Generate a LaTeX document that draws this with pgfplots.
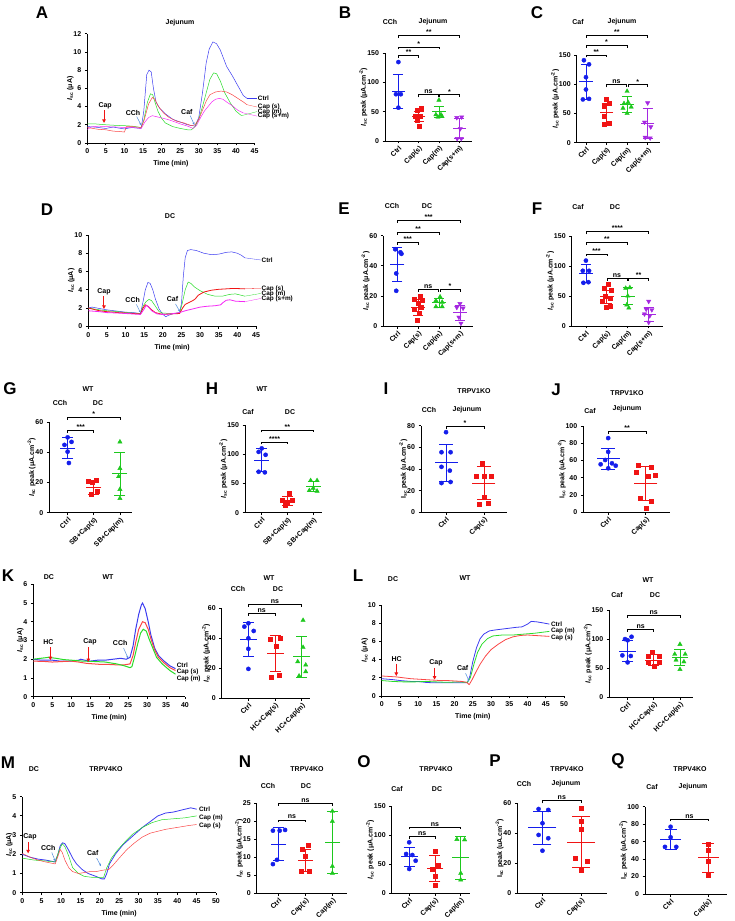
\documentclass[border=0pt]{standalone}
\usepackage{fontspec}
\setmainfont{Liberation Sans}
\usepackage{pgfplots}
\pgfplotsset{compat=1.18}
\usetikzlibrary{arrows.meta}

\definecolor{cb}{RGB}{20,30,235}
\definecolor{cr}{RGB}{240,20,20}
\definecolor{cg}{RGB}{30,200,30}
\definecolor{cp}{RGB}{165,40,225}
\definecolor{lb}{RGB}{60,60,240}
\definecolor{lr}{RGB}{250,70,70}
\definecolor{lg}{RGB}{40,220,40}
\definecolor{lm}{RGB}{245,40,245}
\definecolor{arr}{RGB}{80,140,220}

\newcommand\fs{\fontsize{7}{8}\selectfont\bfseries}
\newcommand\fsm{\fontsize{6.4}{7}\selectfont\bfseries}
\newcommand\fl{\fontsize{17}{17}\selectfont\bfseries}
\newcommand\mw{7pt}
\newcommand\cw{5pt}

\pgfplotsset{
  /pgf/number format/assume math mode=true,
  base/.style={scale only axis, anchor=south west, axis lines=left,
    axis line style={-, line width=0.8pt},
    every tick/.style={black, line width=0.8pt},
    tick align=outside, major tick length=2.5pt, ymin=0, clip=false,
    tick label style={font=\fs}, label style={font=\fs},
    ylabel style={yshift=-7pt}},
  ts/.style={base, xmin=0, xtick distance=5, xlabel={Time (min)},
    ylabel={{\itshape I}\textsubscript{sc} (μA)}},
  sc/.style={base, ylabel={{\itshape I}\textsubscript{sc} peak (μA.cm\textsuperscript{-2})},
    xticklabel style={rotate=45, anchor=north east, inner sep=1pt}},
  scu/.style={sc, ylabel={I\textsubscript{sc} peak (uA.cm\textsuperscript{-2})}},
  pc/.style={only marks, mark=*, cb, mark size=2.1pt},
  ps/.style={only marks, mark=square*, cr, mark size=2pt},
  pm/.style={only marks, mark=triangle*, cg, mark size=2.5pt},
  pp/.style={only marks, mark=triangle*, mark options={rotate=180}, cp, mark size=2.5pt},
  msd/.style={#1, line width=0.8pt, mark=-, mark size=\mw, mark options={line width=0.8pt},
    error bars/y dir=both, error bars/y explicit,
    error bars/error mark options={rotate=90, #1, mark size=\cw, line width=0.8pt},
    error bars/error bar style={line width=0.8pt, #1}},
}

\newcommand\br[4]{%
  \draw[line width=0.7pt] ([yshift=-2.5pt]axis cs:#1,#3) -- (axis cs:#1,#3) -- (axis cs:#2,#3) -- ([yshift=-2.5pt]axis cs:#2,#3);
  \path (axis cs:#1,#3) -- (axis cs:#2,#3) node[midway, above, inner sep=0.6pt, font=\fs] {#4};}
\newcommand\rarr[3]{\draw[cr, line width=1pt, -{Triangle[length=3.5pt,width=3.5pt]}] (axis cs:#1,#2) -- (axis cs:#1,#3);}
\newcommand\barr[4]{\draw[arr, line width=0.5pt, -{Stealth[length=2.5pt,width=2.2pt]}] (axis cs:#1,#2) -- (axis cs:#3,#4);}
\newcommand\T[3]{\node[font=\fs] at (#1pt,#2pt) {#3};}
\newcommand\PL[3]{\node[font=\fl] at (#1pt,#2pt) {#3};}
\newcommand\lab[4]{\node[font=\fsm, anchor=west, inner sep=0.3pt, #4] at (axis cs:#1,#2) {#3};}

\begin{document}
\begin{tikzpicture}
\path[use as bounding box] (0pt,0pt) rectangle (734pt,921pt);

% ---------------- A: Jejunum traces
\begin{axis}[ts, at={(87.3pt,778pt)}, width=167.2pt, height=109.3pt, xmax=45, ymax=12, ytick={0,2,...,12}]
\addplot[lb, line width=0.5pt] coordinates {(0,1.8)(2,1.75)(5,1.6)(7,1.75)(9,1.6)(10,1.55)(12,1.7)(14.5,1.6)(15.2,3.5)(16,7.5)(16.6,8.0)(17.2,7.8)(17.8,6)(18.5,4.5)(19.5,3.8)(21,3.2)(23,2.6)(25,2.3)(27,2.0)(29,1.85)(30,2.8)(31,5.5)(32,8.8)(32.8,10.3)(33.8,11.1)(34.8,10.9)(35.8,10.2)(37.5,8.4)(39,7.4)(40.5,6.3)(42,5.2)(43,4.9)};
\addplot[lg, line width=0.5pt] coordinates {(0,2.1)(2,2.1)(5,2.0)(7,1.95)(10,1.9)(12,1.85)(14.5,1.7)(15.2,2.5)(16.2,4.5)(17,5.4)(17.6,5.3)(18.2,4.5)(19,3.5)(20,2.7)(21,2.2)(23,1.8)(25,1.6)(27,1.45)(28,1.45)(29,1.8)(30,2.6)(31,4)(32,5.5)(33,7)(34,7.7)(34.8,7.6)(35.8,6.8)(37,5.5)(38.5,4.4)(40,3.5)(41.5,3.0)};
\addplot[lr, line width=0.5pt] coordinates {(0,1.7)(3,1.5)(5,1.45)(7,1.3)(9,1.25)(10,1.2)(10.5,1.8)(12,1.8)(14.5,1.7)(15.3,2.5)(16.5,4.3)(17.5,5.0)(18.2,4.8)(19,4.1)(20.5,3.3)(22,2.8)(24,2.4)(26,2.2)(28,1.9)(29,2.0)(30,2.6)(31,3.6)(32,4.6)(33,5.3)(34.5,5.6)(36,5.7)(37.5,5.6)(39,5.3)(40.5,4.9)(42,4.5)(43,4.2)};
\addplot[lm, line width=0.5pt] coordinates {(0,1.5)(1,1.75)(3,1.85)(5,1.8)(8,1.75)(10,1.7)(12,1.7)(14.5,1.6)(15.5,2.3)(16.5,2.8)(17.5,3.0)(18.5,2.9)(20,2.75)(21.5,2.6)(23,2.4)(25,2.1)(27,1.85)(28.5,1.6)(29.5,2.0)(30.5,2.8)(31.5,3.5)(32.5,4.0)(33.5,4.5)(34.5,4.8)(35.5,4.9)(36.5,4.8)(37.5,4.5)(39,4.1)(40.5,3.6)(42,3.3)};
\node[font=\fs] at (axis cs:4.8,4.1) {Cap};
\rarr{4.5}{3.6}{2.2}
\node[font=\fs] at (axis cs:12.3,3.3) {CCh};
\barr{13.3}{2.9}{14.5}{1.95}
\node[font=\fs] at (axis cs:26.8,3.4) {Caf};
\barr{27.7}{3.0}{28.8}{2.0}
\draw[lb, line width=0.3pt] (axis cs:43,4.9) -- (axis cs:45.7,4.9);
\draw[lr, line width=0.3pt] (axis cs:43,4.2) -- (axis cs:45.7,3.95);
\draw[lg, line width=0.3pt] (axis cs:41.5,3.0) -- (axis cs:45.7,3.45);
\draw[lm, line width=0.3pt] (axis cs:42,3.3) -- (axis cs:45.7,2.95);
\lab{45.8}{4.9}{Ctrl}{}
\lab{45.8}{3.95}{Cap (s)}{}
\lab{45.8}{3.45}{Cap (m)}{}
\lab{45.8}{2.95}{Cap (s+m)}{}
\end{axis}
\PL{42}{908}{A}
\T{180}{898}{Jejunum}

% ---------------- B
\renewcommand\mw{6.7pt}\renewcommand\cw{5pt}
\begin{axis}[sc, at={(385pt,780pt)}, width=87pt, height=87.7pt, xmin=-0.66, xmax=3.63, ymax=150, ytick={0,50,100,150}, xtick={0,1,2,3}, xticklabels={Ctrl,Cap(s),Cap(m),Cap(s+m)}]
\addplot[pc] coordinates {(0,135)(0.12,80)(-0.12,80)(0,57)};
\addplot[ps] coordinates {(1.12,56)(0.95,52)(0.85,42)(1.1,42)(0.95,35)(1.05,26)};
\addplot[pm] coordinates {(2,70)(1.85,45)(2.1,45)(1.95,41)(2.15,42)};
\addplot[pp] coordinates {(2.88,40)(3.12,41)(3.05,21)(2.9,4)(3.1,4)};
\addplot[msd=cb] coordinates {(0,85) +- (0,29)};
\addplot[msd=cr] coordinates {(1,42) +- (0,9)};
\addplot[msd=cg] coordinates {(2,50) +- (0,10)};
\addplot[msd=cp] coordinates {(3,21) +- (0,17)};
\br{0}{1}{146}{**}
\br{0}{2}{161}{*}
\br{0}{3}{180}{**}
\br{1}{1.96}{79}{ns}
\br{2.04}{3}{79}{*}
\end{axis}
\PL{345}{908}{B}
\T{390}{899}{CCh}
\T{433}{899}{Jejunum}

% ---------------- C
\begin{axis}[sc, at={(576.7pt,778.3pt)}, width=83.3pt, height=87.7pt, xmin=-0.45, xmax=3.6, ymax=150, ytick={0,50,100,150}, xtick={0,1,2,3}, xticklabels={Ctrl,Cap(s),Cap(m),Cap(s+m)}]
\addplot[pc] coordinates {(-0.1,141)(0.15,134)(0,112)(0,91)(-0.15,74)(0.15,75)};
\addplot[ps] coordinates {(1,74)(1.15,67)(0.9,62)(0.9,45)(1.15,34)(0.9,31)};
\addplot[pm] coordinates {(2,88)(1.85,67)(2.05,69)(2.2,61)(1.8,59)(2,50)};
\addplot[pp] coordinates {(3,68)(2.85,35)(3.15,27)(2.88,9)(3.12,8)};
\addplot[msd=cb] coordinates {(0,104) +- (0,30)};
\addplot[msd=cr] coordinates {(1,51) +- (0,16)};
\addplot[msd=cg] coordinates {(2,66) +- (0,14)};
\addplot[msd=cp] coordinates {(3,33) +- (0,25)};
\br{0}{1}{150}{**}
\br{0}{2}{167}{*}
\br{0}{3}{184}{**}
\br{1}{1.96}{99}{ns}
\br{2.04}{3}{99}{*}
\end{axis}
\PL{537}{908}{C}
\T{578}{899}{Caf}
\T{622}{899}{Jejunum}

% ---------------- D: DC traces
\begin{axis}[ts, at={(88.3pt,594.7pt)}, width=167.7pt, height=91.3pt, xmax=45, ymax=10, ytick={0,2,...,10}]
\addplot[lb, line width=0.5pt] coordinates {(0,2.0)(1,2.1)(3,1.95)(5,1.8)(8,1.65)(10,1.55)(12,1.5)(14,1.4)(14.6,2.5)(15.3,4.0)(16,4.8)(16.6,4.7)(17.3,4.0)(18,3.0)(19,1.9)(20,1.3)(20.8,1.05)(21.5,1.2)(22.5,1.35)(24.5,1.5)(25,2.5)(25.5,5.5)(26,7.5)(26.6,8.3)(27.5,8.4)(29,8.3)(31,8.0)(33,7.85)(35,7.9)(37,8.1)(38.5,8.15)(40,8.0)(41,7.8)(42,7.5)};
\addplot[lg, line width=0.5pt] coordinates {(0,2.0)(3,1.8)(5,1.7)(8,1.6)(10,1.5)(14,1.4)(14.7,2.2)(15.5,2.7)(16.3,2.95)(17,2.8)(18,2.2)(19,1.6)(20,1.45)(22,1.4)(24.5,1.45)(25.2,2.5)(26,4.0)(26.8,4.85)(27.5,4.7)(28.5,4.3)(30,3.9)(32,3.5)(34,3.3)(36,3.3)(38,3.5)(39.5,3.55)(41,3.4)(42,3.3)};
\addplot[cr, line width=0.8pt] coordinates {(0,2.0)(3,1.7)(5,1.6)(8,1.5)(10,1.45)(14,1.35)(14.7,2.0)(15.3,2.35)(16,2.2)(17,1.8)(18,1.5)(20,1.3)(22,1.35)(24.5,1.4)(25.3,2.0)(26,2.4)(27,2.6)(28,2.8)(28.7,3.0)(29.5,3.4)(31,3.75)(33,3.95)(35,4.05)(37,4.1)(39,4.15)(42,4.1)};
\addplot[lm, line width=0.8pt] coordinates {(0,1.7)(3,1.6)(5,1.5)(8,1.45)(10,1.4)(14,1.3)(15,1.9)(15.5,2.3)(16.2,2.1)(17,1.7)(18.5,1.35)(20,1.3)(22,1.35)(24.5,1.5)(26,1.7)(28,1.9)(30,2.1)(32,2.2)(34,2.25)(35.5,2.35)(36,2.55)(37,2.85)(38,2.9)(39.5,2.75)(42,2.7)};
\node[font=\fs] at (axis cs:4.2,3.8) {Cap};
\rarr{4.2}{3.3}{1.9}
\node[font=\fs] at (axis cs:11.9,2.9) {CCh};
\barr{12.9}{2.4}{14}{1.5}
\node[font=\fs] at (axis cs:22.6,2.96) {Caf};
\barr{23.4}{2.45}{24.6}{1.6}
\draw[lb, line width=0.3pt] (axis cs:42,7.5) -- (axis cs:46.3,7.26);
\draw[cr, line width=0.3pt] (axis cs:42,4.1) -- (axis cs:46.3,4.15);
\draw[lg, line width=0.3pt] (axis cs:42,3.3) -- (axis cs:46.3,3.6);
\draw[lm, line width=0.3pt] (axis cs:42,2.7) -- (axis cs:46.3,3.05);
\lab{46.4}{7.26}{Ctrl}{}
\lab{46.4}{4.15}{Cap (s)}{}
\lab{46.4}{3.6}{Cap (m)}{}
\lab{46.4}{3.05}{Cap (s+m)}{}
\end{axis}
\PL{47}{711}{D}
\T{170}{705}{DC}

% ---------------- E
\renewcommand\mw{7pt}\renewcommand\cw{5pt}
\begin{axis}[sc, at={(383.3pt,594.7pt)}, width=90pt, height=90.6pt, xmin=-0.67, xmax=3.64, ymax=60, ytick={0,20,40,60}, xtick={0,1,2,3}, xticklabels={Ctrl,Cap(s),Cap(m),Cap(s+m)}]
\addplot[pc] coordinates {(0.15,49)(-0.1,51)(0.2,48)(-0.05,35)(-0.05,23.5)};
\addplot[ps] coordinates {(1.1,20)(0.8,18)(1.2,17)(1,15)(1.15,12.5)(0.8,11)(1.05,9)(0.95,4)};
\addplot[pm] coordinates {(2.05,19.5)(1.85,17)(2.15,16)(1.85,13)(2.15,13)};
\addplot[pp] coordinates {(3,15)(2.85,12.5)(3.15,12)(2.95,6)(3.05,2)};
\addplot[msd=cb] coordinates {(0,41) +- (0,11.5)};
\addplot[msd=cr] coordinates {(1,12.6) +- (0,5.2)};
\addplot[msd=cg] coordinates {(2,15.5) +- (0,2.8)};
\addplot[msd=cp] coordinates {(3,9) +- (0,5)};
\br{0}{1}{55.6}{***}
\br{0}{2}{62.3}{**}
\br{0}{3}{70}{***}
\br{1}{1.96}{24.5}{ns}
\br{2.04}{3}{24.5}{*}
\end{axis}
\PL{344}{712}{E}
\T{392}{715}{CCh}
\T{427}{715}{DC}

% ---------------- F
\begin{axis}[sc, at={(571.7pt,595pt)}, width=91pt, height=90pt, xmin=-0.68, xmax=3.67, ymax=150, ytick={0,50,100,150}, xtick={0,1,2,3}, xticklabels={Ctrl,Cap(s),Cap(m),Cap(s+m)}]
\addplot[pc] coordinates {(0,109)(0.15,92)(-0.15,92)(-0.12,72)(0.12,73)};
\addplot[ps] coordinates {(1.05,69)(0.85,63)(1.2,60)(0.9,49)(1.15,46)(0.8,42)(1.15,33)(0.95,32)};
\addplot[pm] coordinates {(2.1,64)(1.9,63)(2,50)(1.95,35)(2.05,30)};
\addplot[pp] coordinates {(3,41)(2.88,28)(3.15,27)(2.8,20)(3.05,17)(3,6)};
\addplot[msd=cb] coordinates {(0,88) +- (0,15)};
\addplot[msd=cr] coordinates {(1,49) +- (0,11)};
\addplot[msd=cg] coordinates {(2,50) +- (0,14)};
\addplot[msd=cp] coordinates {(3,19) +- (0,12)};
\br{0}{1}{120}{***}
\br{0}{2}{139}{**}
\br{0}{3}{157}{****}
\br{1}{1.96}{79.5}{ns}
\br{2.04}{3}{79.5}{**}
\end{axis}
\PL{537}{712}{F}
\T{578}{714}{Caf}
\T{615}{714}{DC}

% ---------------- G
\renewcommand\mw{7.5pt}\renewcommand\cw{5.5pt}
\begin{axis}[sc, at={(49.3pt,408.3pt)}, width=82.4pt, height=90.4pt, xmin=-0.7, xmax=2.45, ymax=60, ytick={0,20,40,60}, xtick={0,1,2}, xticklabels={Ctrl,SB+Cap(s),SB+Cap(m)}]
\addplot[pc] coordinates {(0,50)(-0.12,45)(0.15,47)(0,40.5)(0.05,33)};
\addplot[ps] coordinates {(0.8,21)(1.1,21.3)(0.95,20)(1.15,14)(0.9,12)};
\addplot[pm] coordinates {(2,47)(2,29.4)(1.95,24)(2,15.5)(2,9.5)};
\addplot[msd=cb] coordinates {(0,43) +- (0,7)};
\addplot[msd=cr] coordinates {(1,16.8) +- (0,4.5)};
\addplot[msd=cg] coordinates {(2,26) +- (0,14.3)};
\br{0}{1}{54.4}{***}
\br{0}{2}{63.3}{*}
\end{axis}
\PL{10}{532}{G}
\T{88}{532}{WT}
\T{60}{518}{CCh}
\T{98}{518}{DC}

% ---------------- H
\begin{axis}[sc, at={(245pt,408.3pt)}, width=76.7pt, height=87.7pt, xmin=-0.65, xmax=2.33, ymax=150, ytick={0,50,100,150}, xtick={0,1,2}, xticklabels={Ctrl,SB+Cap(s),SB+Cap(m)}]
\addplot[pc] coordinates {(0,110)(-0.12,104)(0.15,99)(-0.12,70)(0.12,69)};
\addplot[ps] coordinates {(1.05,33)(0.8,21)(1.2,21)(1,16)(0.9,12)};
\addplot[pm] coordinates {(1.9,55)(2.15,55)(2,42)(1.85,38)(2.15,37)};
\addplot[msd=cb] coordinates {(0,90) +- (0,20)};
\addplot[msd=cr] coordinates {(1,20.5) +- (0,8)};
\addplot[msd=cg] coordinates {(2,45) +- (0,8)};
\br{0}{1}{121}{****}
\br{0}{2}{141.5}{**}
\end{axis}
\PL{212}{532}{H}
\T{262}{532}{WT}
\T{248}{509}{Caf}
\T{290}{509}{DC}

% ---------------- I
\renewcommand\mw{11.5pt}\renewcommand\cw{7pt}
\begin{axis}[scu, at={(421pt,408.7pt)}, width=85.7pt, height=86.6pt, xmin=-0.66, xmax=1.6, ymax=80, ytick={0,20,...,80}, xtick={0,1}, xticklabels={Ctrl,Cap(s)}]
\addplot[pc] coordinates {(0,74)(-0.12,55.5)(0.12,55.5)(-0.12,42)(0.1,38.5)(-0.12,27)(0.12,28)};
\addplot[ps] coordinates {(0.95,45)(0.8,33.5)(1,33.5)(1.2,33.5)(1,13.5)(0.88,7.5)(1.12,8.6)};
\addplot[msd=cb] coordinates {(0,46) +- (0,17)};
\addplot[msd=cr] coordinates {(1,27) +- (0,15)};
\br{0}{1}{79}{*}
\end{axis}
\PL{386}{532}{I}
\T{474}{530}{TRPV1KO}
\T{429}{511}{CCh}
\T{467}{511}{Jejunum}

% ---------------- J
\begin{axis}[scu, at={(583.3pt,408.7pt)}, width=86.7pt, height=86.3pt, xmin=-0.66, xmax=1.64, ymax=100, ytick={0,20,...,100}, xtick={0,1}, xticklabels={Ctrl,Cap(s)}]
\addplot[pc] coordinates {(0,86)(0,70)(-0.08,60.6)(-0.2,55.6)(0.1,56.8)(0.2,54)(0,51)};
\addplot[ps] coordinates {(0.8,54)(1.15,52)(0.75,47)(1.25,42.5)(1.05,41.3)(0.85,16.6)(1.15,12.4)(1,4.6)};
\addplot[msd=cb] coordinates {(0,62) +- (0,12)};
\addplot[msd=cr] coordinates {(1,33.6) +- (0,19.3)};
\br{0}{1}{94}{**}
\end{axis}
\PL{556}{531}{J}
\T{627}{528}{TRPV1KO}
\T{590}{510}{Caf}
\T{627}{512}{Jejunum}

% ---------------- K traces
\begin{axis}[ts, at={(33.3pt,224.3pt)}, width=151.7pt, height=112.4pt, xmax=40, ymax=6, ytick={0,1,...,6}]
\addplot[lb, line width=1pt] coordinates {(0,2.0)(2,1.95)(5,1.95)(7,1.9)(10,1.9)(12,1.95)(12.5,2.0)(13.5,1.95)(15,1.9)(17,1.95)(19,1.95)(21,2.0)(23,2.05)(24.5,2.0)(25.5,2.1)(26.3,2.7)(27,3.6)(27.8,4.4)(28.5,4.9)(28.8,5.0)(29.5,4.7)(30.3,4.0)(31,3.3)(32,2.6)(33,2.2)(34.5,1.9)(36,1.65)(37.5,1.5)};
\addplot[lr, line width=1pt] coordinates {(0,1.9)(3,1.88)(5,1.85)(8,1.88)(10,1.9)(12,1.85)(14,1.78)(16,1.75)(18,1.72)(20,1.72)(22,1.7)(24,1.7)(25.5,1.75)(26.3,2.2)(27,2.9)(27.8,3.6)(28.8,4.0)(29.5,3.95)(30.3,3.6)(31,3.1)(32,2.5)(33,2.1)(34.5,1.8)(36,1.55)(37.5,1.4)};
\addplot[lg, line width=1pt] coordinates {(0,2.0)(2,2.05)(4,2.1)(6,2.05)(8,1.98)(10,1.95)(13,1.9)(16,1.88)(19,1.85)(22,1.75)(24,1.65)(25.5,1.55)(26,1.6)(26.8,2.2)(27.5,2.8)(28.3,3.4)(29,3.6)(29.8,3.5)(30.5,3.1)(31.5,2.6)(32.5,2.1)(34,1.75)(36,1.4)(37.5,1.2)};
\node[font=\fs] at (axis cs:3.96,2.93) {HC};
\rarr{4.5}{2.65}{1.95}
\node[font=\fs] at (axis cs:14.96,2.93) {Cap};
\rarr{14.5}{2.65}{1.85}
\node[font=\fs] at (axis cs:22.9,2.85) {CCh};
\barr{23.8}{2.6}{25}{2.05}
\lab{37.7}{1.66}{Ctrl}{}
\lab{37.7}{1.3}{Cap (s)}{}
\lab{37.7}{0.94}{Cap (m)}{}
\end{axis}
\PL{8}{345}{K}
\T{49}{344}{DC}
\T{108}{344}{WT}

% ---------------- K scatter
\renewcommand\mw{8.5pt}\renewcommand\cw{5.5pt}
\begin{axis}[sc, at={(221.7pt,222.7pt)}, width=88.3pt, height=90pt, xmin=-1.0, xmax=2.31, ymax=60, ytick={0,20,40,60}, xtick={0,1,2}, xticklabels={Ctrl,HC+Cap(s),HC+Cap(m)}, ylabel style={yshift=-2pt}]
\addplot[pc] coordinates {(0,50)(-0.15,47.8)(0.2,44.9)(0,40)(0,33)(0,19.6)};
\addplot[ps] coordinates {(0.8,39.5)(1.2,40)(1.05,34.5)(1.15,15.5)(0.85,14.3)};
\addplot[pm] coordinates {(2.05,52)(2.05,34)(1.85,24.4)(2.15,22.2)(2.15,17.8)(1.9,14.9)};
\addplot[msd=cb] coordinates {(0,39.3) +- (0,11.2)};
\addplot[msd=cr] coordinates {(1,30) +- (0,12)};
\addplot[msd=cg] coordinates {(2,27.8) +- (0,13.7)};
\br{0}{1}{56.7}{ns}
\br{0}{2}{62.7}{ns}
\end{axis}
\T{269}{343}{WT}
\T{238}{332}{CCh}
\T{278}{332}{DC}

% ---------------- L traces
\begin{axis}[ts, at={(381.7pt,225pt)}, width=182.3pt, height=91pt, xmax=50, ymax=10, ytick={0,2,...,10}]
\addplot[lb, line width=0.8pt] coordinates {(0,1.9)(3,1.8)(5,1.7)(8,1.6)(10,1.6)(12,1.5)(14,1.45)(17,1.45)(20,1.45)(22,1.45)(23.5,1.45)(24.2,2.2)(25,3.8)(26,5.3)(27,6.3)(28,6.8)(29.5,7.15)(31,7.25)(33,7.35)(35,7.45)(37,7.55)(38.5,7.6)(40,7.9)(41,8.2)(42.5,8.15)(44,8.05)(46,7.9)};
\addplot[lg, line width=0.8pt] coordinates {(0,1.7)(3,1.6)(6,1.55)(9,1.55)(12,1.6)(15,1.55)(18,1.5)(21,1.55)(23.5,1.5)(24.3,2.0)(25.3,3.5)(26.3,4.8)(27.5,5.7)(29,6.3)(30.5,6.6)(33,6.7)(36,6.7)(39,6.8)(42,6.9)(44,7.0)(46,7.1)};
\addplot[lr, line width=0.8pt] coordinates {(0,2.2)(2,2.15)(4,2.1)(6,2.0)(8,1.9)(10,1.85)(12,1.8)(14,1.75)(16,1.7)(18,1.7)(20,1.65)(22,1.6)(23.3,1.5)(24,1.25)(24.8,1.8)(25.8,2.6)(27,3.5)(28.5,4.4)(30,5.1)(32,5.7)(34,6.2)(36,6.5)(38,6.65)(40,6.7)(42,6.65)(44,6.6)(46,6.55)};
\node[font=\fs] at (axis cs:4.1,4.06) {HC};
\rarr{4}{3.55}{2.2}
\node[font=\fs] at (axis cs:14.9,3.6) {Cap};
\rarr{14.5}{3.1}{1.8}
\node[font=\fs] at (axis cs:22.2,3.13) {Caf};
\barr{23}{2.5}{24}{1.6}
\lab{46.3}{7.9}{Ctrl}{}
\lab{46.3}{7.15}{Cap (m)}{}
\lab{46.3}{6.4}{Cap (s)}{}
\end{axis}
\PL{358}{345}{L}
\T{393}{342}{DC}
\T{465}{343}{WT}

% ---------------- L scatter
\renewcommand\mw{8.3pt}\renewcommand\cw{5.5pt}
\begin{axis}[sc, at={(609.3pt,223.7pt)}, width=84pt, height=87.3pt, xmin=-0.7, xmax=2.51, ymax=150, ytick={0,50,100,150}, xtick={0,1,2}, xticklabels={Ctrl,HC+Cap(s),HC+Cap(m)}]
\addplot[pc] coordinates {(0.15,104)(-0.1,100)(0,98)(-0.2,72)(0.12,71)(0,60)};
\addplot[ps] coordinates {(0.95,77)(0.8,70)(1.2,70)(0.8,61)(1.2,60)(1,54)};
\addplot[pm] coordinates {(2,91)(1.8,74)(2.2,74)(1.85,64)(2.15,61)(2,48)};
\addplot[msd=cb] coordinates {(0,79) +- (0,18)};
\addplot[msd=cr] coordinates {(1,64) +- (0,9)};
\addplot[msd=cg] coordinates {(2,68) +- (0,14)};
\br{0}{1}{117}{ns}
\br{0}{2}{141}{ns}
\end{axis}
\T{648}{341}{WT}
\T{617}{326}{Caf}
\T{655}{326}{DC}

% ---------------- M traces
\begin{axis}[ts, at={(22.3pt,28.3pt)}, width=193.7pt, height=96pt, xmax=50, ymax=5, ytick={0,1,...,5}]
\addplot[lb, line width=0.8pt] coordinates {(0,2.0)(2,1.85)(4,1.75)(6,1.7)(8.5,1.6)(9.2,2.0)(9.8,2.45)(10.4,2.6)(11,2.55)(12,2.2)(13,1.8)(14,1.5)(15.5,1.2)(17,1.0)(19,0.85)(20.5,0.72)(21.2,0.72)(21.8,1.0)(22.5,1.5)(24,2.0)(26,2.5)(28.5,2.95)(31,3.4)(33,3.7)(35,4.0)(37,4.15)(39,4.2)(41,4.3)(43.5,4.42)(45,4.35)};
\addplot[lg, line width=0.5pt] coordinates {(0,1.8)(3,1.7)(6,1.65)(8.5,1.6)(9.5,2.2)(10.3,2.55)(11,2.4)(12,1.9)(13,1.3)(14.5,1.0)(16,0.85)(18,0.8)(20,0.8)(21,0.8)(21.8,1.3)(23,1.8)(24.5,2.2)(26.5,2.65)(28.5,3.05)(31,3.4)(33.5,3.65)(36,3.8)(39,3.85)(42,3.9)(45,4.0)};
\addplot[lr, line width=0.5pt] coordinates {(0,2.05)(2,1.85)(4,1.7)(6,1.6)(8.5,1.5)(9.2,1.9)(9.8,2.25)(10.3,2.1)(11,1.7)(12,1.3)(13,1.1)(14.5,1.0)(16,1.05)(17.5,1.1)(19,1.1)(21,1.18)(22.3,1.2)(23.5,1.45)(25,1.8)(27,2.25)(29,2.6)(31,2.9)(33,3.1)(35,3.2)(37,3.3)(40,3.4)(43,3.5)(45,3.55)};
\node[font=\fs] at (axis cs:2.0,2.92) {Cap};
\rarr{1.5}{2.65}{2.05}
\node[font=\fs] at (axis cs:6.7,2.34) {CCh};
\barr{7.6}{2.1}{8.5}{1.65}
\node[font=\fs] at (axis cs:18.2,2.05) {Caf};
\barr{19.2}{1.8}{20.3}{1.38}
\lab{45.5}{4.36}{Ctrl}{}
\lab{45.5}{3.88}{Cap (m)}{}
\lab{45.5}{3.47}{Cap (s)}{}
\end{axis}
\PL{8}{158}{M}
\T{34}{152}{DC}
\T{106}{152}{TRPV4KO}

% ---------------- N
\renewcommand\mw{7.8pt}\renewcommand\cw{5.5pt}
\begin{axis}[sc, at={(256.7pt,27.7pt)}, width=90pt, height=90pt, xmin=-0.8, xmax=2.53, ymax=25, ytick={0,5,...,25}, xtick={0,1,2}, xticklabels={Ctrl,Cap(s),Cap(m)}]
\addplot[pc] coordinates {(-0.2,17.4)(0.05,17.4)(0.25,17.6)(-0.05,9.3)(-0.2,8.1)};
\addplot[ps] coordinates {(0.9,12.3)(1.1,13.3)(1,10.4)(0.85,6.0)(1.15,6.0)};
\addplot[pm] coordinates {(2,22.8)(2,20)(2,7.5)(2,5.6)};
\addplot[msd=cb] coordinates {(0,13.7) +- (0,4.7)};
\addplot[msd=cr] coordinates {(1,9.2) +- (0,3.1)};
\addplot[msd=cg] coordinates {(2,14.2) +- (0,8.6)};
\br{0}{1}{20.4}{ns}
\br{0}{2}{25}{ns}
\end{axis}
\PL{245}{159}{N}
\T{307}{152}{TRPV4KO}
\T{268}{135}{CCh}
\T{306}{135}{DC}

% ---------------- O
\renewcommand\mw{8.3pt}\renewcommand\cw{5.5pt}
\begin{axis}[sc, at={(391.7pt,27.7pt)}, width=78.3pt, height=87.3pt, xmin=-0.68, xmax=2.36, ymax=150, ytick={0,50,100,150}, xtick={0,1,2}, xticklabels={Ctrl,Cap(s),Cap(m)}]
\addplot[pc] coordinates {(0,87.6)(-0.12,67.5)(0.12,65.8)(0.25,56)(0,41.8)};
\addplot[ps] coordinates {(1,72.7)(1.12,47.5)(0.88,41.2)(1,29.8)(1,13.2)};
\addplot[pm] coordinates {(1.85,92.7)(2.15,92)(2,34.4)(2,23)};
\addplot[msd=cb] coordinates {(0,63) +- (0,16.6)};
\addplot[msd=cr] coordinates {(1,43) +- (0,22)};
\addplot[msd=cg] coordinates {(2,61) +- (0,37)};
\br{0}{1}{97}{ns}
\br{0}{2}{114}{ns}
\end{axis}
\PL{364}{159}{O}
\T{436}{152}{TRPV4KO}
\T{397}{132}{Caf}
\T{437}{132}{DC}

% ---------------- P
\renewcommand\mw{14pt}\renewcommand\cw{9pt}
\begin{axis}[scu, at={(517.3pt,27.7pt)}, width=89.4pt, height=90pt, xmin=-0.65, xmax=1.66, ymax=60, ytick={0,20,40,60}, xtick={0,1}, xticklabels={Ctrl,Cap(s)}]
\addplot[pc] coordinates {(-0.1,56.2)(0.15,55.6)(0,46.7)(-0.1,38.9)(0.15,36.7)(0,28.4)};
\addplot[ps] coordinates {(1,57)(1,47.8)(1,42.7)(0.85,23.3)(1.15,21.1)(1,15.6)};
\addplot[msd=cb] coordinates {(0,43.8) +- (0,11)};
\addplot[msd=cr] coordinates {(1,34.2) +- (0,17)};
\br{0}{1}{61.7}{ns}
\end{axis}
\PL{495}{160}{P}
\T{567}{152}{TRPV4KO}
\T{524}{137}{CCh}
\T{566}{137}{Jejunum}

% ---------------- Q
\renewcommand\mw{10.5pt}\renewcommand\cw{6pt}
\begin{axis}[scu, at={(645pt,27pt)}, width=81.7pt, height=87.3pt, xmin=-0.68, xmax=1.49, ymax=100, ytick={0,20,...,100}, xtick={0,1}, xticklabels={Ctrl,Cap(s)}]
\addplot[pc] coordinates {(0,77)(0,65)(-0.15,54)(0.15,54)};
\addplot[ps] coordinates {(1,57.3)(1,50.4)(1,37)(1,21.8)};
\addplot[msd=cb] coordinates {(0,62.5) +- (0,11)};
\addplot[msd=cr] coordinates {(1,41.6) +- (0,16.3)};
\br{0}{1}{86}{ns}
\end{axis}
\PL{618}{160}{Q}
\T{690}{152}{TRPV4KO}
\T{652}{134}{Caf}
\T{693}{134}{Jejunum}

\end{tikzpicture}
\end{document}
